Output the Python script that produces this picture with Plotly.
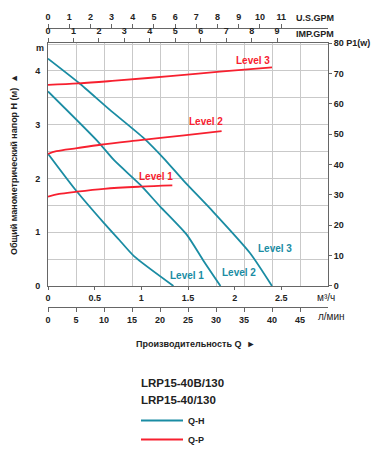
import plotly.graph_objects as go

# ---- data (Q in l/min, H in m, P in W) ----
qh_l3_q = [0, 5.5, 11, 17.1, 20.7, 24.2, 29.5, 36.1, 40.0]
qh_l3_h = [4.23, 3.78, 3.28, 2.75, 2.37, 1.96, 1.38, 0.61, 0.0]
qh_l2_q = [0, 8.8, 11.8, 16.5, 20, 24.8, 27.7, 30.8]
qh_l2_h = [3.62, 2.70, 2.34, 1.88, 1.48, 0.95, 0.48, 0.0]
qh_l1_q = [0, 4.9, 10, 12.7, 15.4, 22.4]
qh_l1_h = [2.46, 1.79, 1.17, 0.86, 0.55, 0.0]

qp_l3_q = [0, 5.5, 12, 21.8, 30.7, 40]
qp_l3_p = [66.2, 66.7, 67.6, 69.1, 70.6, 72.0]
qp_l2_q = [0, 1.5, 5.2, 9.4, 16.5, 24.3, 31]
qp_l2_p = [43.5, 44.4, 45.4, 46.5, 48.0, 49.6, 51.0]
qp_l1_q = [0, 2, 4.9, 10, 16.5, 22.2]
qp_l1_p = [29.4, 30.3, 31.0, 32.0, 32.7, 33.1]

lmin_ticks = [0, 5, 10, 15, 20, 25, 30, 35, 40, 45]
m3h_ticks = [0, 0.5, 1, 1.5, 2, 2.5]
m3h_text = ["0", "0.5", "1", "1.5", "2", "2.5"]
us_ticks = list(range(0, 12))
imp_ticks = list(range(0, 10))
h_ticks = [0, 1, 2, 3, 4]
p_ticks = [0, 10, 20, 30, 40, 50, 60, 70, 80]
p_text = ["0", "10", "20", "30", "40", "50", "60", "70", "80 P1(w)"]
models = ["LRP15-40B/130", "LRP15-40/130"]

BLUE = "#1a8ca3"
RED = "#f7202f"
TXT = "#222222"
FONT = "Liberation Sans"
GRID = "#c9c9c9"
AXL = "#666666"

fig = go.Figure()

for q, h, first in [(qh_l3_q, qh_l3_h, True), (qh_l2_q, qh_l2_h, False), (qh_l1_q, qh_l1_h, False)]:
    fig.add_trace(go.Scatter(x=q, y=h, mode="lines", line=dict(color=BLUE, width=1.8, shape="spline", smoothing=0.6),
                             name="Q-H", showlegend=first, xaxis="x", yaxis="y"))
for q, p, first in [(qp_l3_q, qp_l3_p, True), (qp_l2_q, qp_l2_p, False), (qp_l1_q, qp_l1_p, False)]:
    fig.add_trace(go.Scatter(x=q, y=p, mode="lines", line=dict(color=RED, width=1.8, shape="spline", smoothing=1.0),
                             name="Q-P", showlegend=first, xaxis="x", yaxis="y2"))

# invisible helper traces so the secondary scale axes get drawn
for ax, rng in [("x2", [0, 3]), ("x3", [0, 50]), ("x4", [0, 50 / 4.546]), ("x5", [0, 50 / 3.785])]:
    fig.add_trace(go.Scatter(x=rng, y=[0, 0], mode="markers", marker=dict(opacity=0, size=1),
                             hoverinfo="skip", showlegend=False, xaxis=ax, yaxis="y"))

tf = dict(family=FONT, size=9, color=TXT, weight="bold")

# page has an 8px body margin: plot box in window x 48..328, y 43..286 ; paper y 28..307
W, H = 377, 442


def px(xw):
    return (xw - 48) / 280


def py(yw):
    return (307 - yw) / 279


fig.update_layout(
    width=W, height=H,
    margin=dict(l=40, r=57, t=20, b=143, autoexpand=False),
    paper_bgcolor="white", plot_bgcolor="white",
    font=dict(family=FONT, color=TXT),
    xaxis=dict(range=[0, 50], domain=[0, 1], anchor="y", tickvals=lmin_ticks + [50], showticklabels=False,
               showgrid=True, gridcolor=GRID, gridwidth=1, zeroline=False, showline=False, ticks="", automargin=False),
    xaxis2=dict(range=[0, 3], overlaying="x", anchor="y", side="bottom", tickvals=m3h_ticks, ticktext=m3h_text,
                showgrid=False, zeroline=False, showline=True, linecolor=AXL, linewidth=1,
                ticks="outside", ticklen=3, tickcolor=AXL, tickfont=tf, automargin=False),
    xaxis3=dict(range=[0, 50], overlaying="x", anchor="free", position=0, side="bottom", tickvals=lmin_ticks,
                showgrid=False, zeroline=False, showline=True, linecolor=AXL, linewidth=1,
                ticks="outside", ticklen=4, tickcolor=AXL, tickfont=tf, automargin=False),
    xaxis4=dict(range=[0, 50 / 4.546], overlaying="x", anchor="y", side="top", tickvals=imp_ticks,
                showgrid=False, zeroline=False, showline=True, linecolor=AXL, linewidth=1,
                ticks="outside", ticklen=4, tickcolor=AXL, tickfont=tf, automargin=False),
    xaxis5=dict(range=[0, 50 / 3.785], overlaying="x", anchor="free", position=1, side="top", tickvals=us_ticks,
                showgrid=False, zeroline=False, showline=True, linecolor=AXL, linewidth=1,
                ticks="outside", ticklen=4, tickcolor=AXL, tickfont=tf, automargin=False),
    yaxis=dict(range=[0, 4.52], domain=[0.0753, 0.9462], anchor="x", tickvals=h_ticks,
               showgrid=True, gridcolor=GRID, zeroline=False, showline=True, linecolor=AXL, linewidth=1,
               ticks="", ticklabelstandoff=5, tickfont=tf, automargin=False,
               minor=dict(dtick=0.5, showgrid=True, gridcolor=GRID, ticks="")),
    yaxis2=dict(range=[0, 80], overlaying="y", anchor="x", side="right", tickvals=p_ticks, ticktext=p_text,
                showgrid=False, zeroline=False, showline=True, linecolor=AXL, linewidth=1,
                ticks="outside", ticklen=3, tickcolor=AXL, tickfont=tf, automargin=False),
    legend=dict(x=px(136), y=py(406), xanchor="left", yanchor="top", tracegroupgap=0, itemwidth=42,
                font=dict(family=FONT, size=9, color=TXT, weight="bold"),
                bgcolor="rgba(0,0,0,0)"),
)

lbl = dict(family=FONT, size=10, weight="bold")
ann = [
    dict(x=36.55, y=74.4, xref="x", yref="y2", text="Level 3", font=dict(lbl, color=RED)),
    dict(x=28.2, y=54.1, xref="x", yref="y2", text="Level 2", font=dict(lbl, color=RED)),
    dict(x=19.2, y=36.0, xref="x", yref="y2", text="Level 1", font=dict(lbl, color=RED)),
    dict(x=24.8, y=0.19, xref="x", yref="y", text="Level 1", font=dict(lbl, color=BLUE)),
    dict(x=34.1, y=0.25, xref="x", yref="y", text="Level 2", font=dict(lbl, color=BLUE)),
    dict(x=40.5, y=0.70, xref="x", yref="y", text="Level 3", font=dict(lbl, color=BLUE)),
    dict(x=px(315), y=py(18), xref="paper", yref="paper", text="U.S.GPM", font=tf),
    dict(x=px(315), y=py(34), xref="paper", yref="paper", text="IMP.GPM", font=tf),
    dict(x=px(326), y=py(297), xref="paper", yref="paper", text="м³/ч",
         font=dict(family=FONT, size=10, color=TXT)),
    dict(x=px(331), y=py(317), xref="paper", yref="paper", text="л/мин",
         font=dict(family=FONT, size=10, color=TXT)),
    dict(x=px(40), y=py(48), xref="paper", yref="paper", text="m", font=tf),
    dict(x=px(14), y=py(165), xref="paper", yref="paper", textangle=-90,
         text="Общий манометрический напор H (м)  ▲", font=tf),
    dict(x=px(195), y=py(344), xref="paper", yref="paper",
         text="Производительность Q  ►", font=tf),
    dict(x=px(139), y=py(383), xref="paper", yref="paper", xanchor="left", text=models[0],
         font=dict(family=FONT, size=11.5, color=TXT, weight="bold")),
    dict(x=px(139), y=py(400), xref="paper", yref="paper", xanchor="left", text=models[1],
         font=dict(family=FONT, size=11.5, color=TXT, weight="bold")),
]
for a in ann:
    a.setdefault("showarrow", False)
    a.setdefault("xanchor", "center")
    a.setdefault("yanchor", "middle")
fig.update_layout(annotations=ann)

fig.write_html("out.html")
